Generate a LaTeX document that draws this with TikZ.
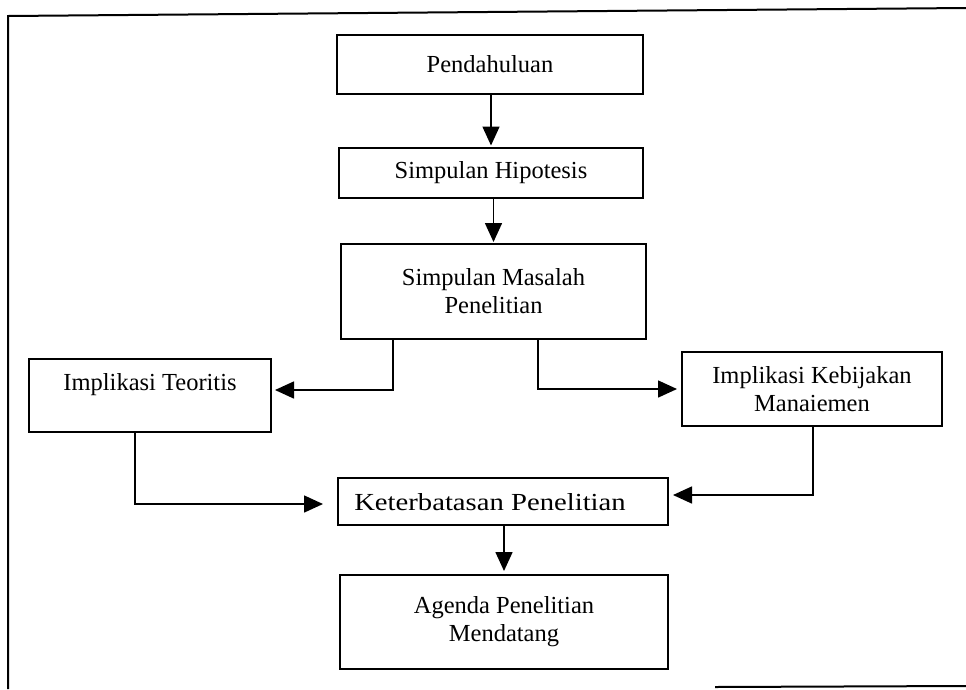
\documentclass[tikz,border=0pt]{standalone}
\usepackage{graphicx}
\usepackage{fontspec}
\setmainfont{Liberation Serif}
\usetikzlibrary{arrows.meta,calc}
\begin{document}
\begin{tikzpicture}[x=1pt,y=-1pt,
  box/.style={draw, line width=2pt, inner sep=0pt, align=center, font=\fontsize{24.5}{28}\selectfont},
  lbl/.style={inner sep=0pt, align=center, font=\fontsize{24.5}{28}\selectfont},
  conn/.style={line width=1.6pt, -{Triangle[length=19pt,width=17pt]}},
  framepart/.style={line width=2pt}]
\useasboundingbox (0,0) rectangle (966,689);
% outer frame (partial, as scanned)
\coordinate (fBL) at (8,689);
\coordinate (fTL) at (8,16);
\coordinate (fTR) at (966,8);
\coordinate (fB1) at (715,687);
\coordinate (fB2) at (966,686);
\draw[framepart] (fBL) -- (fTL) -- (fTR);
\draw[framepart] (fB1) -- (fB2);
% boxes
\node[box, minimum width=306pt, minimum height=59pt] (pend) at (490,64.5) {Pendahuluan};
\node[box, minimum width=304pt, minimum height=50pt] (hip) at (491,173) {Simpulan Hipotesis};
\node[box, minimum width=305pt, minimum height=95pt] (mas) at (493.5,291.5) {Simpulan Masalah\\Penelitian};
\node[box, minimum width=242pt, minimum height=73pt] (teo) at (150,395.5) {};
\node[lbl] (teotxt) at (150,385) {Implikasi Teoritis};
\node[box, minimum width=260pt, minimum height=74pt] (keb) at (812,389) {Implikasi Kebijakan\\Manaiemen};
\node[box, minimum width=330pt, minimum height=47pt] (ket) at (503,501.5) {};
\node[lbl] (kettxt) at (490,502) {\scalebox{1.17}[1]{Keterbatasan Penelitian}};
\node[box, minimum width=328pt, minimum height=94pt] (age) at (504,622) {Agenda Penelitian\\Mendatang};
% connector points
\coordinate (mL) at (393,339);
\coordinate (mR) at (538,339);
\coordinate (tIn) at (271,390);
\coordinate (tOut) at (135,432);
\coordinate (ketL) at (338,504);
\coordinate (kOut) at (813,426);
\coordinate (ketR) at (668,495);
% connectors
\draw[conn, shorten >=1.5pt] (hip.north |- pend.south) -- (hip.north);
\draw[conn, shorten >=1pt] (mas.north |- hip.south) -- (mas.north);
\draw[conn, shorten >=4pt] (mL) |- (tIn);
\draw[conn, shorten >=4pt] (mR) |- (keb.west);
\draw[conn, shorten >=15pt] (tOut) |- (ketL);
\draw[conn, shorten >=5pt] (kOut) |- (ketR);
\draw[conn, shorten >=3pt] (age.north |- ket.south) -- (age.north);
\end{tikzpicture}
\end{document}
